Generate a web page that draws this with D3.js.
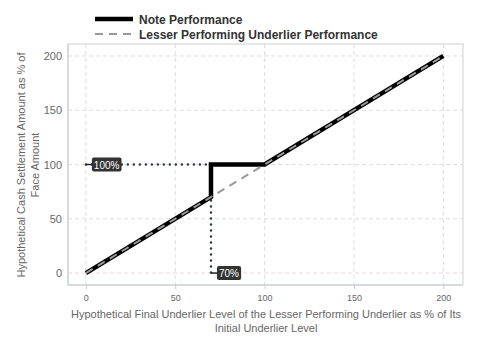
<!DOCTYPE html>
<html><head><meta charset="utf-8">
<script src="https://cdn.jsdelivr.net/npm/d3@7"></script>
<style>body{margin:0;background:#fff;} text{font-family:"Liberation Sans",Arial,sans-serif;}</style>
</head><body>
<svg id="c" width="480" height="360"></svg>
<script>
const xTicks = [0, 50, 100, 150, 200];
const yTicks = [0, 50, 100, 150, 200];
const noteX = [0, 70, 70, 100, 200];
const noteY = [0, 70, 100, 100, 200];
const underX = [0, 200];
const underY = [0, 200];
const barrier = 70;
const capLevel = 100;
const labels = ["100%", "70%"];
const seriesNames = ["Note Performance", "Lesser Performing Underlier Performance"];

const svg = d3.select("#c");
const L = 68, R = 463, T = 44, B = 285;
const x = d3.scaleLinear().domain([-10, 211]).range([L, R]);
const y = d3.scaleLinear().domain([-11, 211]).range([B, T]);

// grid
const g = svg.append("g");
g.selectAll(".vg").data(xTicks).enter().append("line")
  .attr("x1", d => x(d)).attr("x2", d => x(d)).attr("y1", T).attr("y2", B)
  .attr("stroke", "#dddddd").attr("stroke-dasharray", "4,3").attr("stroke-width", 1);
g.selectAll(".hg").data(yTicks).enter().append("line")
  .attr("x1", L).attr("x2", R).attr("y1", d => y(d)).attr("y2", d => y(d))
  .attr("stroke", d => d === 0 ? "#f2d6dc" : "#dddddd").attr("stroke-dasharray", "4,3").attr("stroke-width", 1);

// panel border
svg.append("rect").attr("x", L).attr("y", T).attr("width", R - L).attr("height", B - T)
  .attr("fill", "none").attr("stroke", "#d0d0d0").attr("stroke-width", 1);
svg.append("line").attr("x1", L).attr("x2", R).attr("y1", B).attr("y2", B).attr("stroke", "#c5ccd8");
svg.append("line").attr("x1", L).attr("x2", L).attr("y1", T).attr("y2", B).attr("stroke", "#c5ccd8");

// axes
const xa = svg.append("g").attr("transform", `translate(0,${B})`)
  .call(d3.axisBottom(x).tickValues(xTicks).tickSize(4).tickPadding(6));
xa.select(".domain").remove();
xa.selectAll("line").attr("stroke", "#c5ccd8");
xa.selectAll("text").attr("fill", "#666").attr("font-size", 9);

const ya = svg.append("g").attr("transform", `translate(${L},0)`)
  .call(d3.axisLeft(y).tickValues(yTicks).tickSize(0).tickPadding(6));
ya.select(".domain").remove();
ya.selectAll("text").attr("fill", "#666").attr("font-size", 11);

// dotted reference lines
const dotted = { stroke: "#2b3a4a", "stroke-width": 2.5, "stroke-dasharray": "0,6", "stroke-linecap": "round" };
const h = svg.append("line").attr("x1", x(0)).attr("x2", x(barrier)).attr("y1", y(capLevel)).attr("y2", y(capLevel));
const v = svg.append("line").attr("x1", x(barrier)).attr("x2", x(barrier)).attr("y1", y(capLevel)).attr("y2", y(0));
for (const k in dotted) { h.attr(k, dotted[k]); v.attr(k, dotted[k]); }

// note line
const line = d3.line().x(d => x(d[0])).y(d => y(d[1]));
svg.append("path").datum(noteX.map((d, i) => [d, noteY[i]])).attr("d", line)
  .attr("fill", "none").attr("stroke", "#000").attr("stroke-width", 4.5).attr("stroke-linejoin", "miter");
svg.append("path").datum(underX.map((d, i) => [d, underY[i]])).attr("d", line)
  .attr("fill", "none").attr("stroke", "#999").attr("stroke-width", 2).attr("stroke-dasharray", "8,6");

// labels
function tag(text, px, py) {
  const gg = svg.append("g");
  gg.append("line").attr("x1", px).attr("x2", px + 6).attr("y1", py).attr("y2", py).attr("stroke", "#222").attr("stroke-width", 1.5);
  const t = gg.append("text").attr("x", px + 8).attr("y", py + 4).attr("fill", "#fff").attr("font-size", 10).text(text);
  const bb = t.node().getBBox();
  gg.insert("rect", "text").attr("x", bb.x - 2).attr("y", py - 7).attr("width", bb.width + 4).attr("height", 14)
    .attr("rx", 2).attr("fill", "#333");
}
tag(labels[0], x(0), y(capLevel));
tag(labels[1], x(barrier), y(0));

// legend
const lg = svg.append("g");
lg.append("line").attr("x1", 95).attr("x2", 133).attr("y1", 19).attr("y2", 19).attr("stroke", "#000").attr("stroke-width", 4.5);
lg.append("line").attr("x1", 95).attr("x2", 133).attr("y1", 34).attr("y2", 34).attr("stroke", "#999").attr("stroke-width", 2).attr("stroke-dasharray", "8,6");
lg.append("text").attr("x", 139).attr("y", 23.5).attr("font-size", 12).attr("font-weight", "bold").attr("fill", "#333").text(seriesNames[0]);
lg.append("text").attr("x", 139).attr("y", 38.5).attr("font-size", 12).attr("font-weight", "bold").attr("fill", "#333").text(seriesNames[1]);

// axis titles
const xt = svg.append("text").attr("text-anchor", "middle").attr("fill", "#666").attr("font-size", 11);
xt.append("tspan").attr("x", 266).attr("y", 318).text("Hypothetical Final Underlier Level of the Lesser Performing Underlier as % of Its");
xt.append("tspan").attr("x", 266).attr("y", 332).text("Initial Underlier Level");
const yt = svg.append("text").attr("text-anchor", "middle").attr("fill", "#666").attr("font-size", 11)
  .attr("transform", `translate(0,165) rotate(-90)`);
yt.append("tspan").attr("x", 0).attr("y", 25).text("Hypothetical Cash Settlement Amount as % of");
yt.append("tspan").attr("x", 0).attr("y", 39).text("Face Amount");
</script>
</body></html>
